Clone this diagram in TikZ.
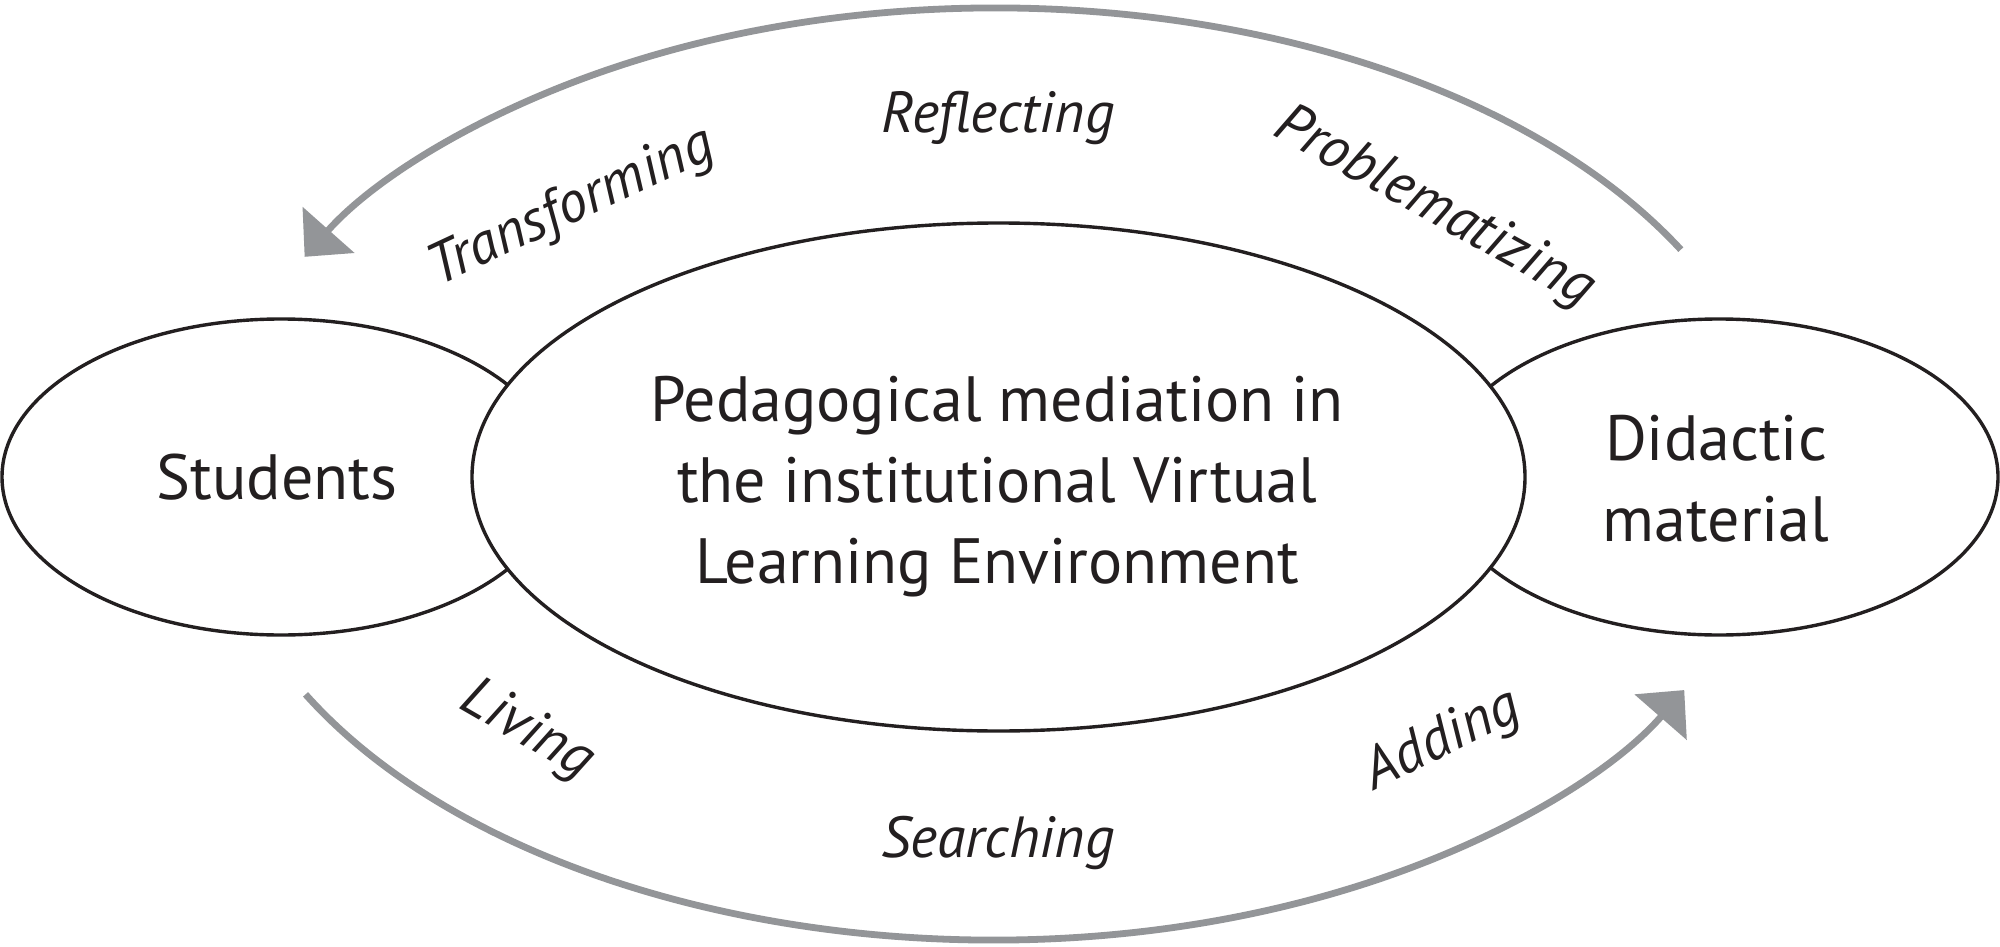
\documentclass[tikz,border=0pt]{standalone}
\usepackage{fontspec}
\setmainfont{PT Sans}
\usetikzlibrary{arrows.meta,shapes.geometric,calc}
\definecolor{inkblack}{HTML}{231F20}
\definecolor{arcgray}{HTML}{939598}
\begin{document}
\begin{tikzpicture}[x=1pt,y=1pt,
  bubble/.style={draw=inkblack, line width=3.4pt, fill=white, ellipse, inner sep=0pt},
  maintext/.style={text=inkblack, font=\fontsize{64}{81}\selectfont, align=center, inner sep=0pt},
  verb/.style={text=inkblack, font=\fontsize{58}{68}\selectfont\itshape, inner sep=0pt},
  cyclearc/.style={draw=arcgray, line width=6.8pt},
  bigtip/.style={-{Triangle[length=36pt,width=68pt]}}
  ]
\fill[white] (0,0) rectangle (2000,-947);
\useasboundingbox (0,0) rectangle (2000,-947);
% ellipses
\node[bubble, minimum width=558pt, minimum height=316pt] (stu) at (281,-477) {};
\node[bubble, minimum width=558pt, minimum height=316pt] (did) at (1719,-477) {};
\node[bubble, minimum width=1053pt, minimum height=508pt] (ped) at (998.5,-477) {};
% texts
\node[maintext] (stuT) at (277,-482.8) {\strut Students};
\node[maintext] (pedT) at (997,-485.8) {\strut Pedagogical mediation in\\\strut the institutional Virtual\\\strut Learning Environment};
\node[maintext] (didT) at (1716,-485) {\strut Didactic\\\strut material};
% arcs
\coordinate (topStart) at ($(996,-477)+(29:783 and 469)$);
\coordinate (botStart) at ($(993,-477)+(208:778.6 and 463)$);
\draw[cyclearc, bigtip] (topStart) arc[start angle=29, end angle=152, x radius=783, y radius=469];
\draw[cyclearc, bigtip] (botStart) arc[start angle=208, end angle=332.6, x radius=778.6, y radius=463];
% labels
\node[verb, rotate=25] (lTrans) at (572,-208) {Transforming};
\node[verb, anchor=base] (lRefl) at (998,-133) {Reflecting};
\node[verb, rotate=-29] (lProb) at (1434,-208) {Problematizing};
\node[verb, rotate=-30] (lLiv) at (527,-731) {Living};
\node[verb, anchor=base] (lSear) at (998,-857) {Searching};
\node[verb, rotate=26] (lAdd) at (1443,-741) {Adding};
\end{tikzpicture}
\end{document}
